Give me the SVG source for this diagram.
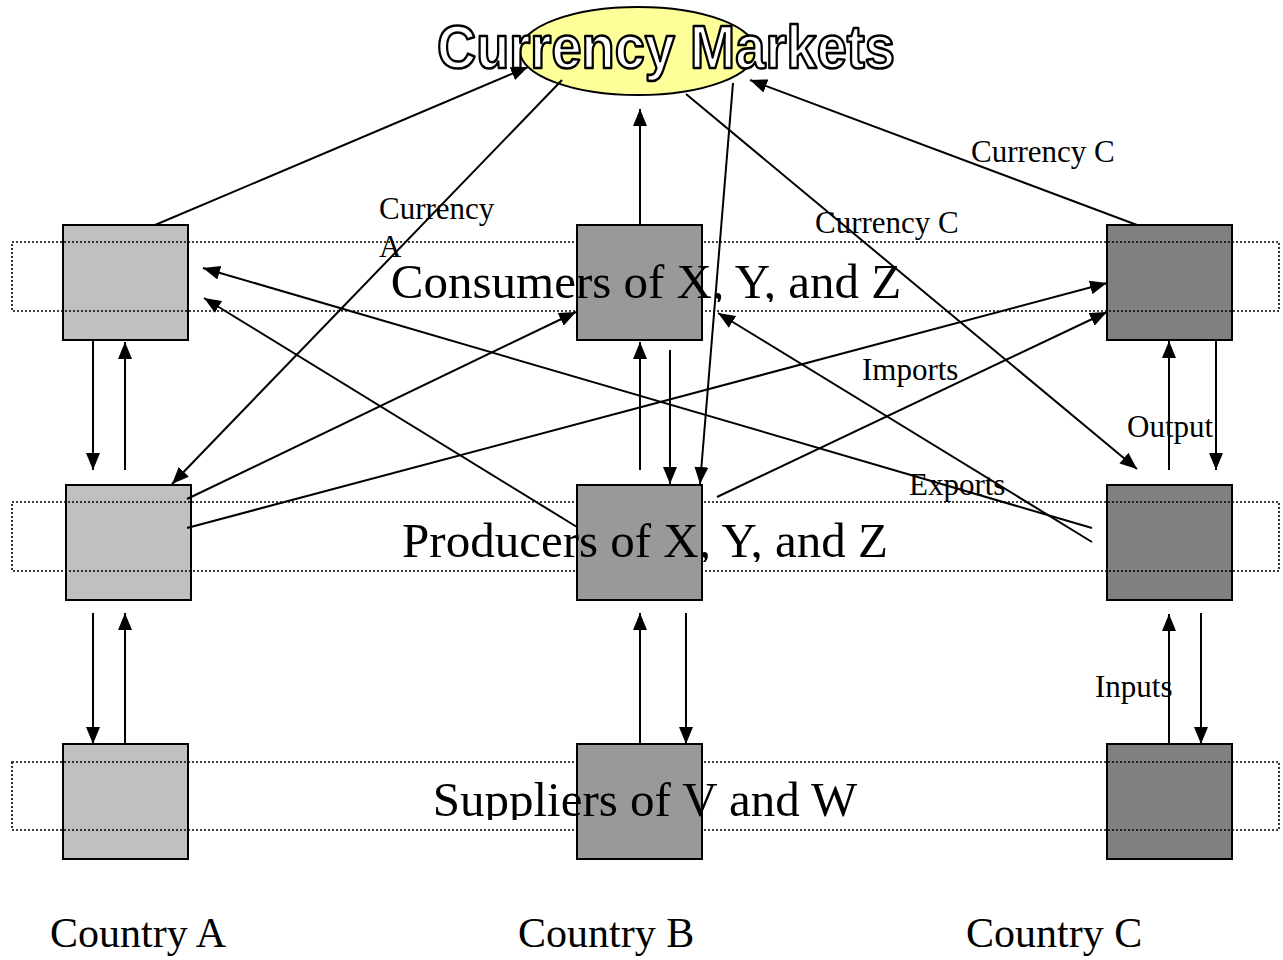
<svg xmlns="http://www.w3.org/2000/svg" width="1283" height="960" viewBox="0 0 1283 960">
  <style>
    .box { stroke: #000; stroke-width: 2; }
    .ca { fill: #c0c0c0; }
    .cb { fill: #999999; }
    .cc { fill: #808080; }
    .band { fill: none; stroke: #000; stroke-width: 1.6; stroke-dasharray: 2 2; }
    .conn line { stroke: #000; stroke-width: 2; marker-end: url(#arrow); }
    .big { font-family: "Liberation Serif", "Times New Roman", serif; font-size: 49px; fill: #000; text-anchor: middle; }
    .lbl { font-family: "Liberation Serif", "Times New Roman", serif; font-size: 31px; fill: #000; }
    .country { font-family: "Liberation Serif", "Times New Roman", serif; font-size: 42px; fill: #000; }
    .title { font-family: "Liberation Sans", Arial, sans-serif; font-weight: bold; font-size: 62px; fill: #fff; stroke: #000; stroke-width: 2.6; stroke-linejoin: round; }
  </style>
  <defs>
    <marker id="arrow" markerUnits="userSpaceOnUse" markerWidth="18" markerHeight="14" refX="17" refY="7" orient="auto">
      <path d="M0,0 L17,7 L0,14 Z" fill="#000"/>
    </marker>
    <clipPath id="clipCons"><rect x="12" y="242" width="1267" height="60"/></clipPath>
    <clipPath id="clipProd"><rect x="12" y="502" width="1267" height="60"/></clipPath>
    <clipPath id="clipSupp"><rect x="12" y="762" width="1267" height="58"/></clipPath>
  </defs>

  <rect width="1283" height="960" fill="#fff"/>

  <!-- country A and C boxes -->
  <g id="consumer-a"><rect class="box ca" x="63" y="225" width="125" height="115"/></g>
  <g id="producer-a"><rect class="box ca" x="66" y="485" width="125" height="115"/></g>
  <g id="supplier-a"><rect class="box ca" x="63" y="744" width="125" height="115"/></g>
  <g id="consumer-c"><rect class="box cc" x="1107" y="225" width="125" height="115"/></g>
  <g id="producer-c"><rect class="box cc" x="1107" y="485" width="125" height="115"/></g>
  <g id="supplier-c"><rect class="box cc" x="1107" y="744" width="125" height="115"/></g>

  <!-- dotted bands -->
  <g id="bands">
    <rect class="band" x="12" y="242" width="1267" height="69"/>
    <rect class="band" x="12" y="502" width="1267" height="69"/>
    <rect class="band" x="12" y="762" width="1267" height="68"/>
  </g>

  <!-- country B boxes -->
  <g id="consumer-b"><rect class="box cb" x="577" y="225" width="125" height="115"/></g>
  <g id="producer-b"><rect class="box cb" x="577" y="485" width="125" height="115"/></g>
  <g id="supplier-b"><rect class="box cb" x="577" y="744" width="125" height="115"/></g>

  <!-- band captions -->
  <g id="band-labels">
    <text class="big" x="646" y="298" clip-path="url(#clipCons)">Consumers of X, Y, and Z</text>
    <text class="big" x="645" y="557" clip-path="url(#clipProd)">Producers of X, Y, and Z</text>
    <text class="big" x="645" y="816" clip-path="url(#clipSupp)">Suppliers of V and W</text>
  </g>

  <!-- currency market -->
  <g id="currency-markets">
    <ellipse cx="638" cy="51" rx="118" ry="44" fill="#ffff99" stroke="#000" stroke-width="2"/>
    <text class="title" x="437" y="68" textLength="458" lengthAdjust="spacingAndGlyphs">Currency Markets</text>
  </g>

  <g id="connectors" class="conn">
    <line x1="155" y1="225" x2="528" y2="67"/>
    <line x1="562" y1="80" x2="172" y2="484"/>
    <line x1="640" y1="225" x2="640" y2="109"/>
    <line x1="733" y1="83" x2="700" y2="484"/>
    <line x1="686" y1="94" x2="1137" y2="469"/>
    <line x1="1137" y1="225" x2="750" y2="80"/>

    <line x1="93" y1="341" x2="93" y2="470"/>
    <line x1="125" y1="470" x2="125" y2="342"/>
    <line x1="93" y1="613" x2="93" y2="744"/>
    <line x1="125" y1="744" x2="125" y2="613"/>

    <line x1="640" y1="470" x2="640" y2="342"/>
    <line x1="670" y1="350" x2="670" y2="484"/>
    <line x1="640" y1="744" x2="640" y2="613"/>
    <line x1="686" y1="613" x2="686" y2="744"/>

    <line x1="1169" y1="470" x2="1169" y2="341"/>
    <line x1="1216" y1="341" x2="1216" y2="470"/>
    <line x1="1169" y1="744" x2="1169" y2="614"/>
    <line x1="1201" y1="613" x2="1201" y2="744"/>

    <line x1="187" y1="499" x2="576" y2="312"/>
    <line x1="187" y1="528" x2="1107" y2="283"/>
    <line x1="577" y1="527" x2="204" y2="298"/>
    <line x1="1092" y1="528" x2="203" y2="268"/>
    <line x1="1092" y1="542" x2="718" y2="313"/>
    <line x1="717" y1="497" x2="1107" y2="312"/>
  </g>

  <!-- flow labels -->
  <g id="labels">
    <text class="lbl" x="379" y="219">Currency</text>
    <text class="lbl" x="379" y="257">A</text>
    <text class="lbl" x="971" y="162">Currency C</text>
    <text class="lbl" x="815" y="233">Currency C</text>
    <text class="lbl" x="862" y="380">Imports</text>
    <text class="lbl" x="1127" y="437">Output</text>
    <text class="lbl" x="909" y="495">Exports</text>
    <text class="lbl" x="1095" y="697">Inputs</text>
  </g>

  <g id="countries">
    <text class="country" x="50" y="947">Country A</text>
    <text class="country" x="518" y="947">Country B</text>
    <text class="country" x="966" y="947">Country C</text>
  </g>
</svg>
